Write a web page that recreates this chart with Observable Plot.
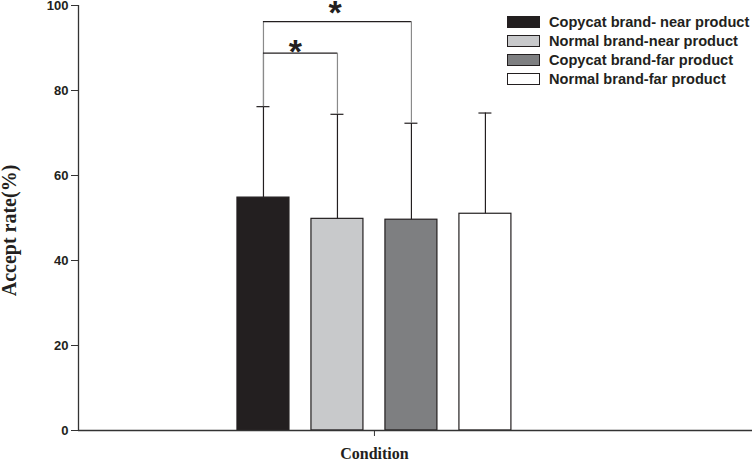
<!DOCTYPE html>
<html>
<head>
<meta charset="utf-8">
<script src="https://cdn.jsdelivr.net/npm/d3@7"></script>
<script src="https://cdn.jsdelivr.net/npm/@observablehq/plot@0.6"></script>
<style>
  body { margin: 0; background: #fff; }
  #wrap { position: relative; width: 752px; height: 460px; overflow: hidden; }
  #wrap svg { overflow: visible; }
  #legend { position: absolute; left: 507px; top: 13px; font-family: "Liberation Sans", Arial, sans-serif; font-weight: bold; font-size: 14.6px; color: #231f20; white-space: nowrap; }
  .row { display: flex; align-items: center; height: 20px; margin-top: -1px; }
  .sw { width: 31px; height: 10px; border: 1.5px solid #231f20; margin-right: 9px; }
</style>
</head>
<body>
<div id="wrap"><div id="legend"></div></div>
<script>
const conditions = ["Copycat brand- near product", "Normal brand-near product", "Copycat brand-far product", "Normal brand-far product"];
const means = [54.8, 49.8, 49.6, 51.0];
const sds = [21.4, 24.6, 22.7, 23.7];
const palette = ["#231f20", "#c8c9cb", "#7e7f81", "#ffffff"];
const yTicks = [0, 20, 40, 60, 80, 100];
const xTickLabels = ["Condition"];
const yLabel = "Accept rate(%)";
const bracketFrom = [0, 0];
const bracketTo = [2, 1];
const bracketY = [96.2, 88.8];
const starX = [0.97, 0.43];
const starY = [99.8, 90.6];
const sigLabels = ["*", "*"];

const rows = conditions.map((c, i) => ({cond: c, i, mean: means[i], sd: sds[i], top: means[i] + sds[i]}));
const brackets = bracketFrom.map((f, k) => ({from: f, to: bracketTo[k], y: bracketY[k], starX: starX[k], starY: starY[k], label: sigLabels[k]}));

const hw = 26 / 74, capHalf = 6.5 / 74;
const xDomain = [-2.5, 6.61];
const sans = "'Liberation Sans', Arial, sans-serif";
const serif = "'Liberation Serif', 'Times New Roman', serif";
const ink = "#231f20";

const chart = Plot.plot({
  width: 752, height: 460,
  marginLeft: 78, marginRight: 0, marginTop: 5, marginBottom: 30,
  style: {background: "transparent", color: ink, overflow: "visible"},
  x: {type: "linear", domain: xDomain, axis: null},
  y: {domain: [0, 100], axis: null},
  color: {domain: conditions, range: palette},
  marks: [
    Plot.rectY(rows, {x1: d => d.i - hw, x2: d => d.i + hw, y: "mean", fill: "cond", stroke: ink, strokeWidth: 1.2}),
    Plot.ruleX(rows, {x: "i", y1: "mean", y2: "top", stroke: ink, strokeWidth: 1.2}),
    Plot.ruleY(rows, {y: "top", x1: d => d.i - capHalf, x2: d => d.i + capHalf, stroke: ink, strokeWidth: 1.2}),
    Plot.ruleX(brackets, {x: "from", y1: d => rows[d.from].top, y2: "y", stroke: "#8a8a8a", strokeWidth: 1.2}),
    Plot.ruleX(brackets, {x: "to", y1: d => rows[d.to].top, y2: "y", stroke: "#8a8a8a", strokeWidth: 1.2}),
    Plot.ruleY(brackets, {y: "y", x1: "from", x2: "to", stroke: ink, strokeWidth: 1.2}),
    Plot.text(brackets, {x: "starX", y: "starY", text: "label", fontSize: 34, fontWeight: "bold", fontFamily: sans, fill: ink, dy: 6.5}),
    Plot.ruleX([xDomain[0]], {y1: 0, y2: 100, stroke: "#333", strokeWidth: 1.3}),
    Plot.ruleY([0], {stroke: "#333", strokeWidth: 1.3}),
    Plot.axisY({ticks: yTicks, tickSize: 7, tickPadding: 3, fontSize: 13, fontWeight: "bold", fontFamily: sans, label: null, stroke: "#333"}),
    Plot.axisX({ticks: [(conditions.length - 1) / 2], tickFormat: () => xTickLabels[0], tickSize: 6, tickPadding: 11, fontSize: 16, fontWeight: "bold", fontFamily: serif, label: null, stroke: "#333"}),
    Plot.text([yLabel], {frameAnchor: "left", textAnchor: "middle", rotate: -90, dx: -69, dy: 12.5, fontSize: 20, fontWeight: "bold", fontFamily: serif, fill: ink})
  ]
});
document.getElementById("wrap").prepend(chart);

const legend = document.getElementById("legend");
conditions.forEach((c, i) => {
  const row = document.createElement("div");
  row.className = "row";
  const sw = document.createElement("div");
  sw.className = "sw";
  sw.style.background = palette[i];
  const t = document.createElement("span");
  t.textContent = c;
  row.append(sw, t);
  legend.append(row);
});
</script>
</body>
</html>
